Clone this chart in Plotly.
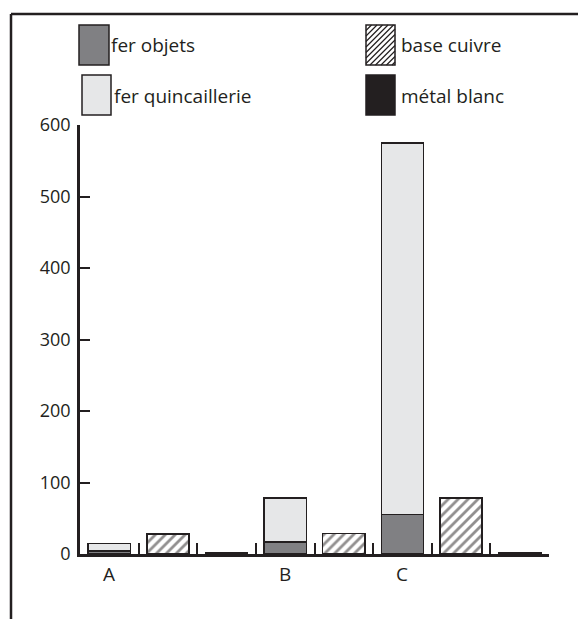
import plotly.graph_objects as go

# ---- data ----
groups = ["A", "B", "C"]
group_x = [0.5, 3.5, 5.5]
fer_objets_x = [0.5, 3.5, 5.5]
fer_objets = [4, 17, 55]
fer_quinc_x = [0.5, 3.5, 5.5]
fer_quincaillerie = [10.5, 61, 520]
cuivre_x = [1.5, 4.5, 6.5]
base_cuivre = [28, 29, 78]
metal_x = [2.5, 7.5]
metal_blanc = [2, 2]
y_ticks = [0, 100, 200, 300, 400, 500, 600]
slot_bounds = [1, 2, 3, 4, 5, 6, 7, 8]

INK = "#231f20"
FONT = "Open Sans"
O = 8  # page body margin offset
W, H = 586 - O, 619 - O
L, R, T, B = 80 - O, 549 - O, 125 - O, 554 - O

def px(x):
    return (x - O - L) / (R - L)

def py(y):
    return (B - (y - O)) / (B - T)

bw = 0.72
fig = go.Figure()
fig.add_bar(x=fer_objets_x, y=fer_objets, width=bw, name="fer objets",
            marker=dict(color="#808083", line=dict(color=INK, width=1.5)))
fig.add_bar(x=fer_quinc_x, y=fer_quincaillerie, width=bw, name="fer quincaillerie",
            marker=dict(color="#e6e7e8", line=dict(color=INK, width=1.5)))
fig.add_bar(x=cuivre_x, y=base_cuivre, width=bw, name="base cuivre",
            marker=dict(color="white", line=dict(color=INK, width=1.5),
                        pattern=dict(shape="/", fgcolor=INK, bgcolor="white",
                                     size=7, solidity=0.4)))
fig.add_bar(x=metal_x, y=metal_blanc, width=bw, name="métal blanc",
            marker=dict(color=INK, line=dict(color=INK, width=1.5)))

shapes = []
# frame (top and left lines)
shapes.append(dict(type="line", xref="paper", yref="paper",
                   x0=px(11), x1=px(620), y0=py(14), y1=py(14),
                   line=dict(color=INK, width=2.5)))
shapes.append(dict(type="line", xref="paper", yref="paper",
                   x0=px(11), x1=px(11), y0=py(14), y1=py(660),
                   line=dict(color=INK, width=2.5)))

# legend swatches
def box(x0, y0, x1, y1, fill):
    return dict(type="rect", xref="paper", yref="paper",
                x0=px(x0), x1=px(x1), y0=py(y1), y1=py(y0),
                fillcolor=fill, line=dict(color=INK, width=1.5))

shapes.append(box(79, 25, 109, 65, "#808083"))
shapes.append(box(82, 75, 111, 115, "#e6e7e8"))
shapes.append(box(366, 25, 395, 65, "white"))
shapes.append(box(366, 75, 395, 115, INK))

# hatch lines for base cuivre swatch
hx0, hy0, hx1, hy1 = 366, 25, 395, 65
path = ""
step = 5.5
k = -(hy1 - hy0)
while k < (hx1 - hx0):
    tmin = max(0, -k)
    tmax = min(hy1 - hy0, (hx1 - hx0) - k)
    if tmax > tmin:
        xa, ya = hx0 + k + tmin, hy1 - tmin
        xb, yb = hx0 + k + tmax, hy1 - tmax
        path += f"M{px(xa)},{py(ya)} L{px(xb)},{py(yb)} "
    k += step
shapes.append(dict(type="path", xref="paper", yref="paper", path=path,
                   line=dict(color=INK, width=1.2)))

annotations = []
def label(text, x, y):
    annotations.append(dict(text=text, xref="paper", yref="paper",
                            x=px(x), y=py(y), xanchor="left", yanchor="middle",
                            showarrow=False,
                            font=dict(family=FONT, size=19, color=INK)))

label("fer objets", 109, 45)
label("fer quincaillerie", 112, 96)
label("base cuivre", 399, 45)
label("métal blanc", 399, 96)

# group labels under the x axis
for g, gx in zip(groups, group_x):
    annotations.append(dict(text=g, xref="x", yref="paper", x=gx, y=py(574),
                            xanchor="center", yanchor="middle", showarrow=False,
                            font=dict(family=FONT, size=19, color=INK)))

fig.update_layout(
    width=W, height=H,
    margin=dict(l=L, r=W - R, t=T, b=H - B, pad=0),
    paper_bgcolor="white", plot_bgcolor="white",
    barmode="stack", showlegend=False,
    shapes=shapes, annotations=annotations,
    font=dict(family=FONT, color=INK, size=18),
)
fig.update_xaxes(
    range=[0, 8], showgrid=False, zeroline=False,
    showline=True, linecolor=INK, linewidth=2.5,
    tickmode="array", tickvals=slot_bounds, ticktext=[""] * len(slot_bounds),
    ticks="inside", ticklen=11, tickwidth=2, tickcolor=INK,
    showticklabels=False,
)
fig.update_yaxes(
    range=[0, 600], showgrid=False, zeroline=False,
    showline=True, linecolor=INK, linewidth=2.5,
    tickmode="array", tickvals=y_ticks,
    ticks="inside", ticklen=10, tickwidth=2, tickcolor=INK,
    ticklabelstandoff=3,
    tickfont=dict(family=FONT, size=18, color=INK),
)

fig.write_html("out.html")
